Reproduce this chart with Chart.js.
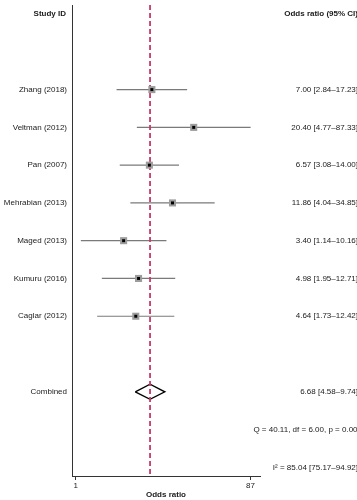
<!DOCTYPE html>
<html>
<head>
<meta charset="utf-8">
<script src="https://cdn.jsdelivr.net/npm/chart.js@4/dist/chart.umd.min.js"></script>
<style>
  html, body { margin: 0; padding: 0; background: #ffffff; }
  #wrap { width: 357px; height: 500px; position: relative; }
</style>
</head>
<body>
<div id="wrap"><canvas id="c" width="357" height="500"></canvas></div>
<script>
// ---- data ----
const studies = ['Zhang (2018)', 'Veltman (2012)', 'Pan (2007)', 'Mehrabian (2013)', 'Maged (2013)', 'Kumuru (2016)', 'Caglar (2012)'];
const oddsRatios = [7.00, 20.40, 6.57, 11.86, 3.40, 4.98, 4.64];
const ciLower = [2.84, 4.77, 3.08, 4.04, 1.14, 1.95, 1.73];
const ciUpper = [17.23, 87.33, 14.00, 34.85, 10.16, 12.71, 12.42];
const combinedLabel = 'Combined';
const combinedOR = 6.68;
const combinedLower = 4.58;
const combinedUpper = 9.74;
const heterogeneityText = 'Q = 40.11, df = 6.00, p = 0.000';
const i2Text = 'I\u00B2 = 85.04 [75.17\u201394.92]';
const xTicks = [1, 87];
const headerLeft = 'Study ID';
const headerRight = 'Odds ratio (95% CI)';
const xTitle = 'Odds ratio';

// row positions (row index in the layout)
const studyRows = studies.map((s, i) => i + 2);
const combinedRow = 10;
const qRow = 11;
const i2Row = 12;
const headerRow = 0;

const fmt = v => v.toFixed(2);
const rightLabels = studies.map((s, i) => fmt(oddsRatios[i]) + ' [' + fmt(ciLower[i]) + '\u2013' + fmt(ciUpper[i]) + ']');
const combinedText = fmt(combinedOR) + ' [' + fmt(combinedLower) + '\u2013' + fmt(combinedUpper) + ']';

const Y_MIN = -0.24, Y_MAX = 12.23;
const FONT = '"Liberation Sans", Arial, Helvetica, sans-serif';

const datasets = [];
// whiskers
studies.forEach((s, i) => {
  datasets.push({
    type: 'line',
    data: [{x: ciLower[i], y: studyRows[i]}, {x: ciUpper[i], y: studyRows[i]}],
    borderColor: '#7a7a7a', borderWidth: 1.2, pointRadius: 0, fill: false, order: 5
  });
});
// diamond
const dh = 0.2;
datasets.push({
  type: 'line',
  data: [
    {x: combinedLower, y: combinedRow},
    {x: combinedOR, y: combinedRow - dh},
    {x: combinedUpper, y: combinedRow},
    {x: combinedOR, y: combinedRow + dh},
    {x: combinedLower, y: combinedRow}
  ],
  borderColor: '#000000', borderWidth: 1.4, backgroundColor: '#ffffff', fill: true,
  pointRadius: 0, tension: 0, order: 4
});
// dashed reference line at combined estimate
datasets.push({
  type: 'line',
  data: [{x: combinedOR, y: Y_MIN}, {x: combinedOR, y: Y_MAX}],
  borderColor: '#c63a6c', borderWidth: 1.8, borderDash: [5, 3], pointRadius: 0, fill: false, order: 3
});
// grey squares
datasets.push({
  type: 'scatter',
  data: studies.map((s, i) => ({x: oddsRatios[i], y: studyRows[i]})),
  pointStyle: 'rect', pointRadius: 5, backgroundColor: '#9c9c9c', borderWidth: 0, order: 2
});
// black centers
datasets.push({
  type: 'scatter',
  data: studies.map((s, i) => ({x: oddsRatios[i], y: studyRows[i]})),
  pointStyle: 'rect', pointRadius: 2.1, backgroundColor: '#000000', borderWidth: 0, order: 1
});

const textPlugin = {
  id: 'forestText',
  afterDraw(chart) {
    const ctx = chart.ctx;
    const y = chart.scales.y;
    ctx.save();
    ctx.fillStyle = '#1a1a1a';
    ctx.textBaseline = 'middle';
    // headers
    ctx.font = 'bold 8px ' + FONT;
    ctx.textAlign = 'right';
    ctx.fillText(headerLeft, 66, y.getPixelForValue(headerRow));
    ctx.fillText(headerRight, 358, y.getPixelForValue(headerRow));
    ctx.font = '8px ' + FONT;
    studies.forEach((s, i) => {
      const py = y.getPixelForValue(studyRows[i]);
      ctx.textAlign = 'right';
      ctx.fillText(s, 67, py);
      ctx.fillText(rightLabels[i], 358, py);
    });
    ctx.fillText(combinedLabel, 67, y.getPixelForValue(combinedRow));
    ctx.fillText(combinedText, 358, y.getPixelForValue(combinedRow));
    ctx.fillText(heterogeneityText, 362, y.getPixelForValue(qRow));
    ctx.fillText(i2Text, 358, y.getPixelForValue(i2Row));
    ctx.restore();
  }
};

new Chart(document.getElementById('c'), {
  data: { datasets },
  options: {
    responsive: false,
    animation: false,
    events: [],
    layout: { padding: { left: 72, right: 97, top: 0, bottom: 0 } },
    plugins: { legend: { display: false }, tooltip: { enabled: false } },
    scales: {
      x: {
        type: 'logarithmic',
        min: 0.909, max: 111,
        afterBuildTicks: s => { s.ticks = xTicks.map(v => ({value: v})); },
        afterFit: s => { s.height = 24; },
        ticks: {
          autoSkip: false, maxRotation: 0, padding: 1,
          color: '#1a1a1a', font: { family: FONT, size: 8 },
          callback: v => String(v)
        },
        grid: { drawOnChartArea: false, drawTicks: true, tickLength: 4, color: '#333333' },
        border: { display: true, color: '#333333', width: 1 },
        title: { display: true, text: xTitle, color: '#1a1a1a', font: { family: FONT, size: 8, weight: 'bold' }, padding: 0 }
      },
      y: {
        type: 'linear',
        reverse: true,
        min: Y_MIN, max: Y_MAX,
        afterFit: s => { s.width = 0; },
        ticks: { display: false },
        grid: { drawOnChartArea: false, drawTicks: false },
        border: { display: true, color: '#333333', width: 1 }
      }
    }
  },
  plugins: [textPlugin]
});
</script>
</body>
</html>
